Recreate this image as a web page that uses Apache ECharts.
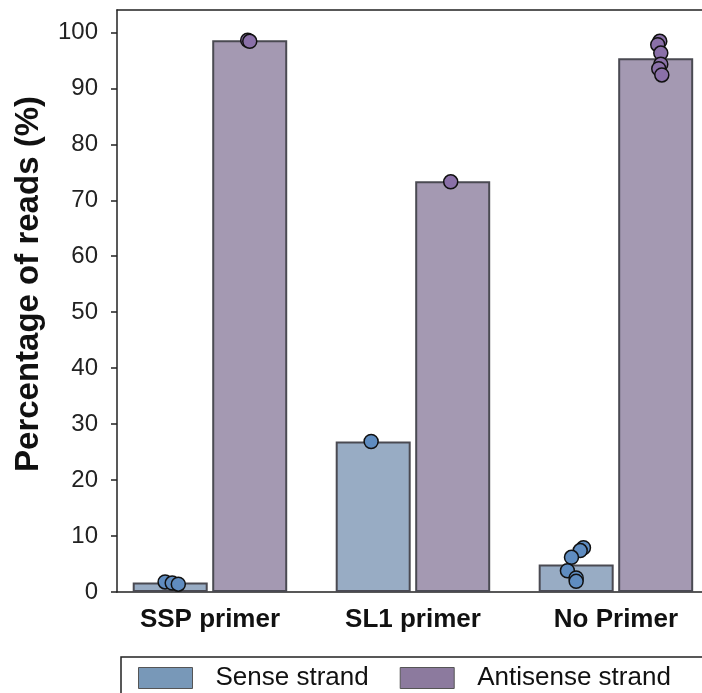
<!DOCTYPE html>
<html><head><meta charset="utf-8">
<script src="https://cdn.jsdelivr.net/npm/echarts@6/dist/echarts.min.js"></script>
<style>html,body{margin:0;padding:0;background:#fff}#c{width:702px;height:693px}</style>
</head><body><div id="c"></div>
<script>
const categories = ['SSP primer', 'SL1 primer', 'No Primer'];
const senseMeans = [1.7, 26.9, 4.9];
const antisenseMeans = [98.6, 73.4, 95.4];
const senseReps = [[1.8, 1.6, 1.4], [26.9], [7.9, 7.4, 6.2, 3.8, 2.5, 1.9]];
const antisenseReps = [[98.6, 98.4], [73.3], [98.4, 97.8, 96.3, 94.3, 93.5, 92.4]];
const senseJitter = [[-0.025, 0.01, 0.04], [-0.01], [0.036, 0.02, -0.023, -0.043, 0.0, 0.0]];
const antisenseJitter = [[-0.01, 0.0], [-0.01], [0.02, 0.01, 0.025, 0.025, 0.015, 0.03]];
const yTicks = [0, 10, 20, 30, 40, 50, 60, 70, 80, 90, 100];
const seriesNames = ['Sense strand', 'Antisense strand'];

const dodge = 0.196;
const font = '"Liberation Sans", Arial, Helvetica, sans-serif';
const barBorder = '#4a4a52';
const axisStyle = { color: '#222', width: 1.5 };

function pts(reps, jit, off) {
  const out = [];
  reps.forEach((arr, i) => arr.forEach((v, k) => out.push([i + off + jit[i][k], v])));
  return out;
}

const chart = echarts.init(document.getElementById('c'));
chart.setOption({
  animation: false,
  grid: { left: 117, right: 0, top: 10, bottom: 101, show: false },
  xAxis: [{
    type: 'value', min: -0.458, max: 2.424,
    splitLine: { show: false },
    axisLine: { show: true, onZero: false, lineStyle: axisStyle },
    axisTick: { show: false },
    axisLabel: { customValues: [0, 1, 2], formatter: v => categories[Math.round(v)], fontSize: 26, fontWeight: 'bold', color: '#111', fontFamily: font, margin: 15 }
  }, {
    type: 'value', position: 'top', min: -0.458, max: 2.424,
    splitLine: { show: false },
    axisLine: { show: true, onZero: false, lineStyle: axisStyle },
    axisTick: { show: false }, axisLabel: { show: false }
  }],
  yAxis: {
    type: 'value', min: 0, max: 104,
    name: 'Percentage of reads (%)', nameLocation: 'middle', nameGap: 72,
    nameTextStyle: { fontSize: 33, fontWeight: 'bold', color: '#111', fontFamily: font, padding: [0, 0, 0, 34] },
    splitLine: { show: false },
    axisLine: { show: true, onZero: false, lineStyle: axisStyle },
    axisTick: { show: true, customValues: yTicks, length: 6, lineStyle: axisStyle },
    axisLabel: { customValues: yTicks, fontSize: 24, color: '#222', fontFamily: font, margin: 19 }
  },
  legend: {
    left: 121, top: 657, width: 640,
    data: [
      { name: seriesNames[0], icon: 'rect', itemStyle: { color: '#7898b8', borderColor: '#555', borderWidth: 1 } },
      { name: seriesNames[1], icon: 'rect', itemStyle: { color: '#8c7a9e', borderColor: '#555', borderWidth: 1 } }
    ],
    itemWidth: 54, itemHeight: 21, itemGap: 31,
    padding: [8, 50, 14, 17],
    borderColor: '#222', borderWidth: 1.5,
    textStyle: { fontSize: 26, color: '#111', fontFamily: font, padding: [0, 0, 0, 18] },
    selectedMode: false
  },
  series: [
    {
      name: seriesNames[0], type: 'bar', barWidth: 75, barGap: '6%',
      data: senseMeans.map((v, i) => [i, v]),
      itemStyle: { color: '#98acc4', borderColor: barBorder, borderWidth: 2 }
    },
    {
      name: seriesNames[1], type: 'bar', barWidth: 75, barGap: '6%',
      data: antisenseMeans.map((v, i) => [i, v]),
      itemStyle: { color: '#a499b2', borderColor: barBorder, borderWidth: 2 }
    },
    {
      name: 'senseDots', type: 'scatter', symbolSize: 14, z: 5,
      data: pts(senseReps, senseJitter, -dodge),
      itemStyle: { color: '#5f8cc0', borderColor: '#111', borderWidth: 1.5, opacity: 1 }
    },
    {
      name: 'antisenseDots', type: 'scatter', symbolSize: 14, z: 5,
      data: pts(antisenseReps, antisenseJitter, dodge),
      itemStyle: { color: '#8a70a8', borderColor: '#111', borderWidth: 1.5, opacity: 1 }
    }
  ]
});
</script></body></html>
